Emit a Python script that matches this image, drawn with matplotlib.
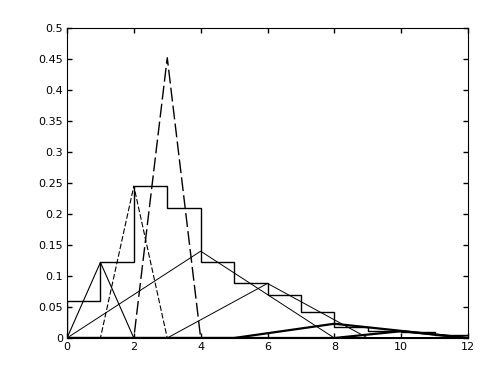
import matplotlib
matplotlib.use("Agg")
import matplotlib.pyplot as plt
import numpy as np

# Histogram (staircase) values for bins [k, k+1)
bin_edges = [0, 1, 2, 3, 4, 5, 6, 7, 8, 9, 10, 11, 12]
hist_values = [0.06, 0.122, 0.245, 0.21, 0.122, 0.088, 0.07, 0.042, 0.018, 0.012, 0.01, 0.005]

# Triangular curves: (start, peak_x, end, peak_value)
tri_starts = [0, 1, 2, 0, 3, 5, 8]
tri_peaks_x = [1, 2, 3, 4, 6, 8, 10]
tri_ends = [2, 3, 4, 8, 9, 12, 12]
tri_peak_vals = [0.122, 0.245, 0.452, 0.14, 0.088, 0.023, 0.011]
tri_styles = ['-', (0, (5, 2)), (0, (10, 3)), '-', '-', '-', '-']
tri_widths = [0.8, 0.8, 1.0, 0.7, 0.7, 1.6, 1.6]

x_ticks = [0, 2, 4, 6, 8, 10, 12]
y_ticks = [0, 0.05, 0.1, 0.15, 0.2, 0.25, 0.3, 0.35, 0.4, 0.45, 0.5]
y_tick_labels = ['0', '0.05', '0.1', '0.15', '0.2', '0.25', '0.3', '0.35', '0.4', '0.45', '0.5']

fig = plt.figure(figsize=(4.88, 3.80), dpi=100)
ax = fig.add_axes([67/488, 1 - 338/380, (468-67)/488, (338-28)/380])

# staircase
ax.stairs(hist_values, bin_edges, color='black', linewidth=1.0)

# triangles drawn over full range (zeros elsewhere)
for s, p, e, v, ls, lw in zip(tri_starts, tri_peaks_x, tri_ends, tri_peak_vals, tri_styles, tri_widths):
    xs = [0, s, p, e, 12]
    ys = [0, 0, v, 0, 0]
    ax.plot(xs, ys, color='black', linestyle=ls, linewidth=lw)

ax.plot([0, 12], [0, 0], color='black', linewidth=2.0)

ax.set_xlim(0, 12)
ax.set_ylim(0, 0.5)
ax.set_xticks(x_ticks)
ax.set_xticklabels([str(t) for t in x_ticks])
ax.set_yticks(y_ticks)
ax.set_yticklabels(y_tick_labels)
ax.tick_params(direction='in', length=3.5, width=1.0, top=True, right=True, labelsize=8, pad=3)
for sp in ax.spines.values():
    sp.set_linewidth(0.8)

fig.savefig('out.png', dpi=100)
